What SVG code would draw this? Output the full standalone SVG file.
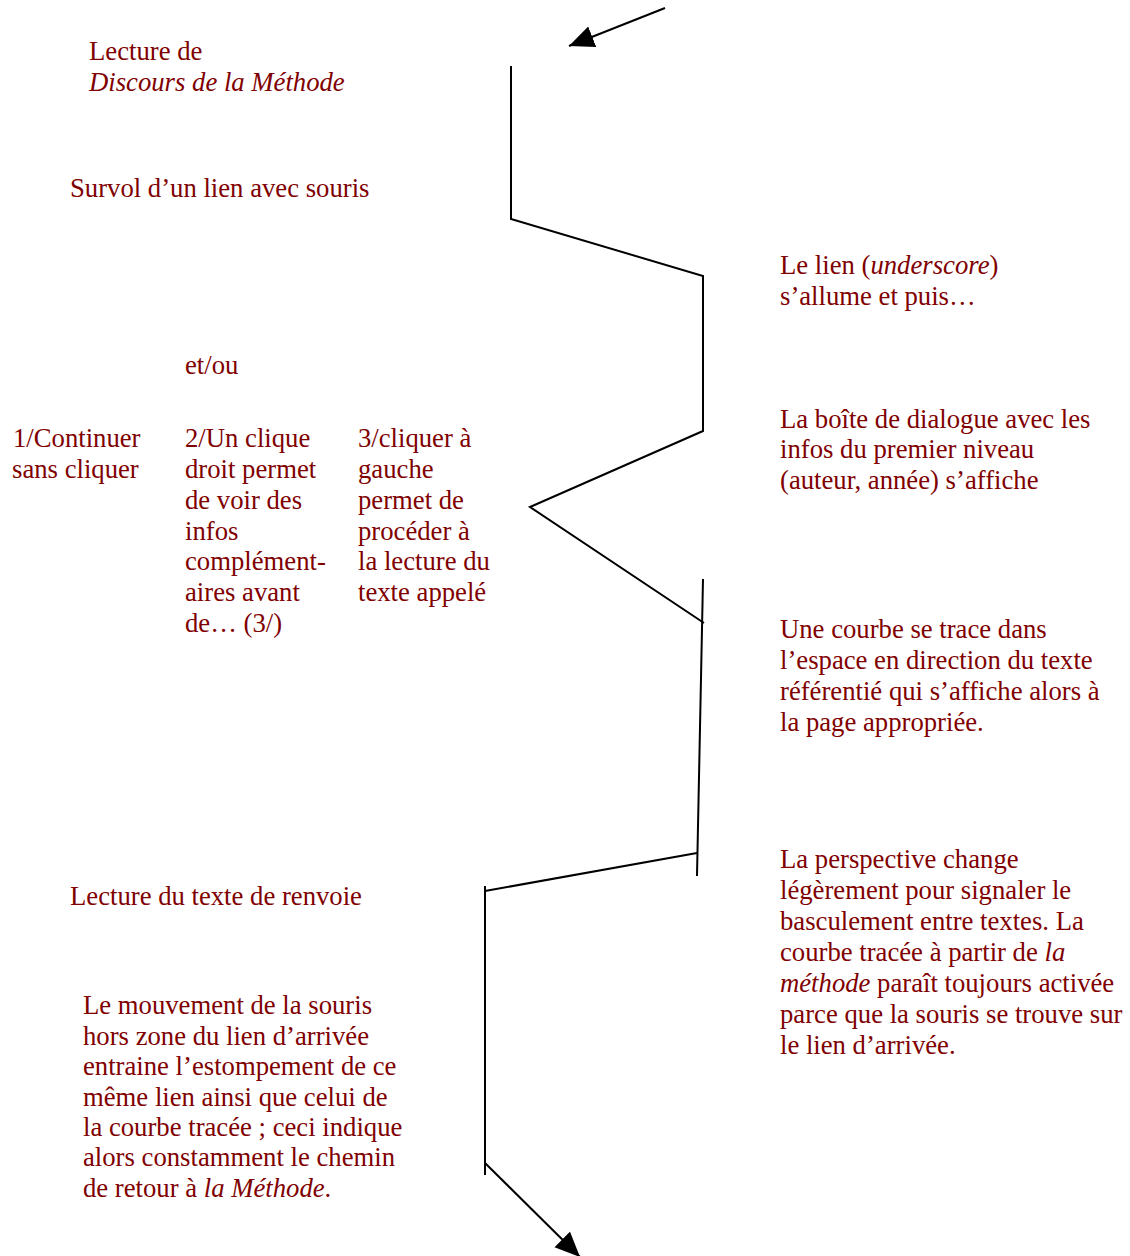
<svg xmlns="http://www.w3.org/2000/svg" width="1130" height="1256" viewBox="0 0 1130 1256">
<style>
text{font-family:"Liberation Serif","Times New Roman",serif;font-size:26.7px;fill:#800000}
.i{font-style:italic}
.ln{stroke:#000;stroke-width:2;fill:none}
</style>
<defs>
<marker id="ah" markerUnits="userSpaceOnUse" markerWidth="28" markerHeight="24" refX="25" refY="11" orient="auto">
<path d="M0,0 L25,11 L0,22 Z" fill="#000"/>
</marker>
</defs>
<g id="connectors">
<line class="ln" x1="665" y1="8" x2="569" y2="46" marker-end="url(#ah)"/>
<polyline class="ln" points="511,66 511,219 703,276 703,431 530,507 704,623"/>
<line class="ln" x1="703" y1="579" x2="697" y2="876"/>
<line class="ln" x1="697" y1="853" x2="485" y2="891"/>
<line class="ln" x1="485" y1="886" x2="485" y2="1175"/>
<line class="ln" x1="485" y1="1163" x2="580" y2="1257" marker-end="url(#ah)"/>
</g>
<g id="nodes" transform="translate(0,1)">
<g id="n-lecture"><text x="89" y="59">Lecture de</text><text x="89" y="90" class="i">Discours de la Méthode</text></g>
<g id="n-survol"><text x="70" y="196">Survol d’un lien avec souris</text></g>
<g id="n-lien"><text x="780" y="273">Le lien (<tspan class="i">underscore</tspan>)</text><text x="780" y="304">s’allume et puis…</text></g>
<g id="n-etou"><text x="185" y="373">et/ou</text></g>
<g id="n-opt1"><text x="13" y="446">1/Continuer</text><text x="12" y="477">sans cliquer</text></g>
<g id="n-opt2">
<text x="185" y="446">2/Un clique</text>
<text x="185" y="477">droit permet</text>
<text x="185" y="508">de voir des</text>
<text x="185" y="539">infos</text>
<text x="185" y="569">complément-</text>
<text x="185" y="600">aires avant</text>
<text x="185" y="631">de… (3/)</text>
</g>
<g id="n-opt3">
<text x="358" y="446">3/cliquer à</text>
<text x="358" y="477">gauche</text>
<text x="358" y="508">permet de</text>
<text x="358" y="539">procéder à</text>
<text x="358" y="569">la lecture du</text>
<text x="358" y="600">texte appelé</text>
</g>
<g id="n-boite">
<text x="780" y="427">La boîte de dialogue avec les</text>
<text x="780" y="457">infos du premier niveau</text>
<text x="780" y="488">(auteur, année) s’affiche</text>
</g>
<g id="n-courbe">
<text x="780" y="637">Une courbe se trace dans</text>
<text x="780" y="668">l’espace en direction du texte</text>
<text x="780" y="699">référentié qui s’affiche alors à</text>
<text x="780" y="730">la page appropriée.</text>
</g>
<g id="n-perspective">
<text x="780" y="867">La perspective change</text>
<text x="780" y="898">légèrement pour signaler le</text>
<text x="780" y="929">basculement entre textes. La</text>
<text x="780" y="960">courbe tracée à partir de <tspan class="i">la</tspan></text>
<text x="780" y="991"><tspan class="i">méthode</tspan> paraît toujours activée</text>
<text x="780" y="1022">parce que la souris se trouve sur</text>
<text x="780" y="1053">le lien d’arrivée.</text>
</g>
<g id="n-renvoie"><text x="70" y="904">Lecture du texte de renvoie</text></g>
<g id="n-mouvement">
<text x="83" y="1013">Le mouvement de la souris</text>
<text x="83" y="1044">hors zone du lien d’arrivée</text>
<text x="83" y="1074">entraine l’estompement de ce</text>
<text x="83" y="1105">même lien ainsi que celui de</text>
<text x="83" y="1135">la courbe tracée ; ceci indique</text>
<text x="83" y="1165">alors constamment le chemin</text>
<text x="83" y="1196">de retour à <tspan class="i">la Méthode</tspan>.</text>
</g>
</g>
</svg>
